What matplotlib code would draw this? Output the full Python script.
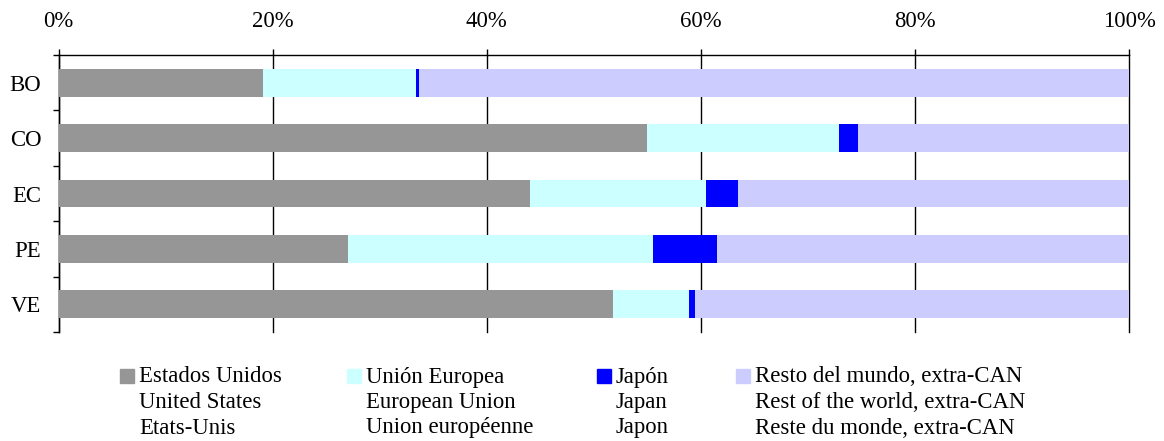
import numpy as np
import matplotlib.pyplot as plt
from matplotlib.patches import Rectangle

plt.rcParams['font.family'] = ['Liberation Serif', 'DejaVu Serif']

paises = ['BO', 'CO', 'EC', 'PE', 'VE']
estados_unidos = [19.1, 55.0, 44.0, 27.0, 51.8]
union_europea = [14.3, 17.9, 16.5, 28.5, 7.1]
japon = [0.3, 1.8, 3.0, 6.0, 0.6]
resto = [100 - a - b - c for a, b, c in zip(estados_unidos, union_europea, japon)]

series = [estados_unidos, union_europea, japon, resto]
colores = ['#969696', '#CCFFFF', '#0000FF', '#CCCCFF']
etiquetas = [
    ['Estados Unidos', 'United States', 'Etats-Unis'],
    ['Unión Europea', 'European Union', 'Union européenne'],
    ['Japón', 'Japan', 'Japon'],
    ['Resto del mundo, extra-CAN', 'Rest of the world, extra-CAN', 'Reste du monde, extra-CAN'],
]

W, H = 1164, 441
fs = 16.4
fig = plt.figure(figsize=(W / 100, H / 100), dpi=100)
ax = fig.add_axes([58.5 / W, 1 - 332 / H, (1129 - 58.5) / W, (332 - 55) / H])

y = np.arange(len(paises))
izq = np.zeros(len(paises))
for vals, col in zip(series, colores):
    ax.barh(y, vals, left=izq, height=0.5, color=col, zorder=3)
    izq = izq + np.array(vals)

ax.set_xlim(0, 100)
ax.set_ylim(len(paises) - 0.5, -0.5)

# eixo x no topo
ax.xaxis.tick_top()
ax.set_xticks(np.arange(0, 101, 20))
ax.set_xticklabels([f'{v}%' for v in range(0, 101, 20)])
ax.tick_params(axis='x', direction='out', length=4.5, width=1, pad=12, labelsize=fs)
ax.xaxis.grid(True, color='black', linewidth=1, zorder=1)
for g in ax.get_xgridlines():
    g.set_clip_on(False)

# rotulos dos paises no centro, ticks nas fronteiras
ax.set_yticks(y)
ax.set_yticklabels(paises)
ax.set_yticks(np.arange(-0.5, len(paises)), minor=True)
ax.tick_params(axis='y', which='major', length=0, pad=12.5, labelsize=fs)
ax.tick_params(axis='y', which='minor', length=4.5, width=1, direction='out')

ax.spines['bottom'].set_visible(False)
ax.spines['right'].set_visible(False)
ax.spines['top'].set_linewidth(1)
ax.spines['left'].set_linewidth(1)

# legenda manual
leg_x = [120, 347, 597, 736]
for xs, col, labs in zip(leg_x, colores, etiquetas):
    fig.patches.append(Rectangle((xs / W, 1 - 383 / H), 14 / W, 14 / H,
                                 transform=fig.transFigure, color=col))
    for i, t in enumerate(labs):
        fig.text((xs + 19) / W, 1 - (377 + 25.5 * i) / H, t, fontsize=fs,
                 va='center', ha='left')

plt.savefig('out.png', dpi=100)
